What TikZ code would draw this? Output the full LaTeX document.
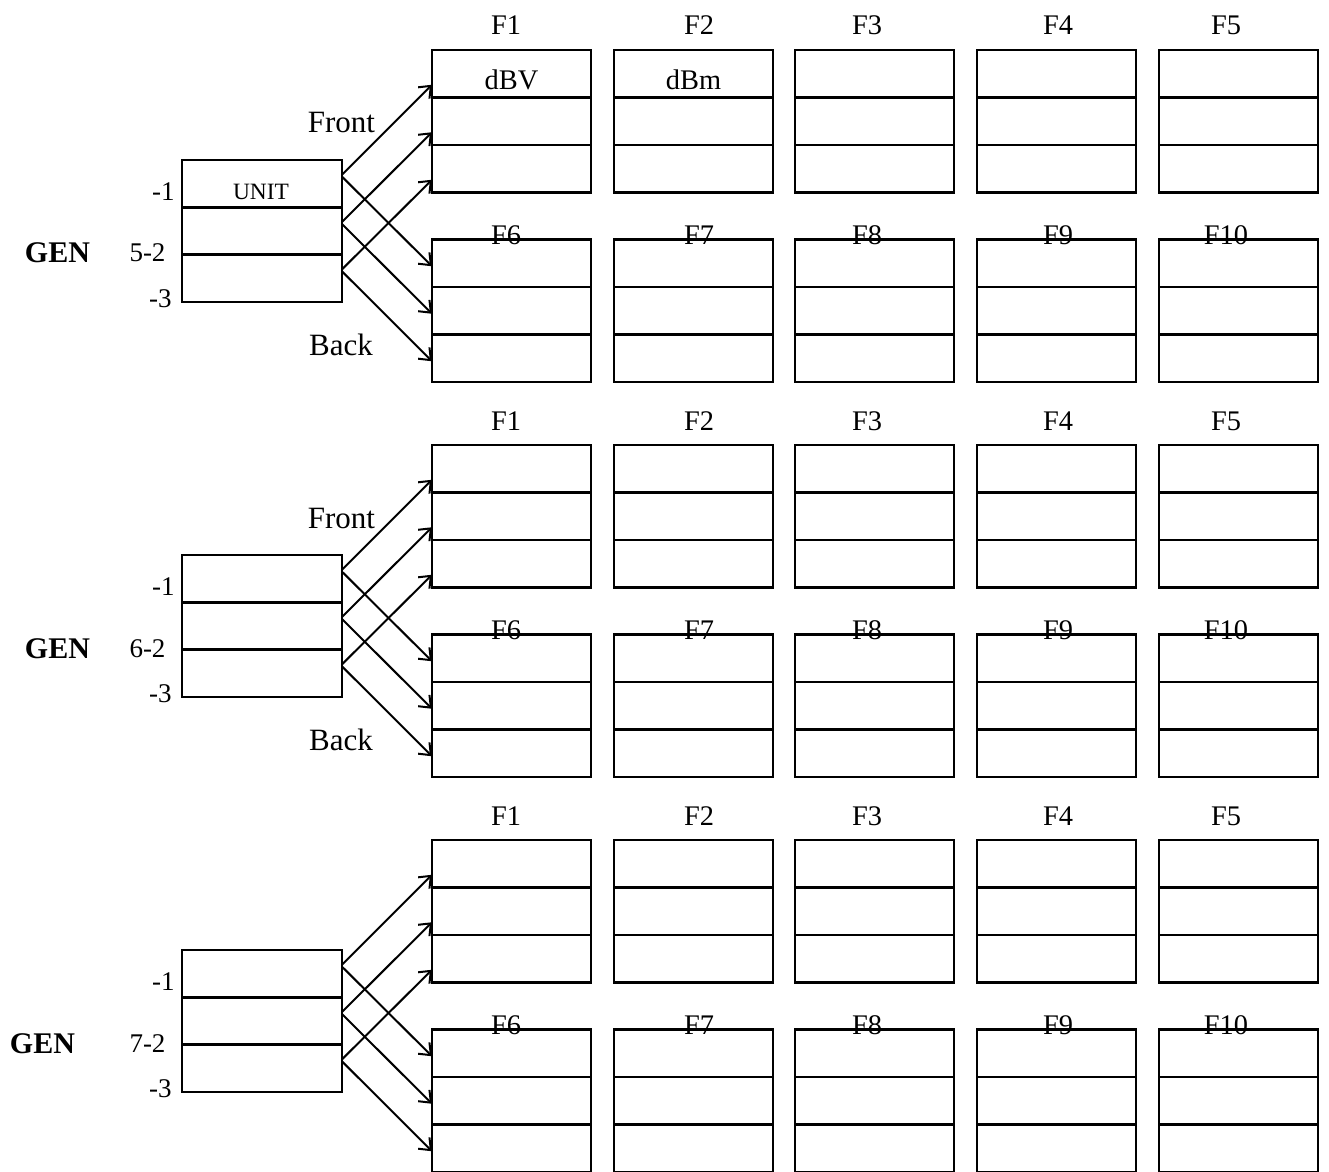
\documentclass[tikz,border=0pt]{standalone}
\usepackage{fontspec}
\setmainfont{Liberation Serif}
\usetikzlibrary{positioning, arrows.meta, calc}

\begin{document}
\begin{tikzpicture}[x=0.5pt, y=-0.5pt,
    cell/.style={draw, line width=1.35pt, minimum width=79.5pt, minimum height=23.75pt, inner sep=0pt, outer sep=0pt},
    ucell/.style={cell, minimum width=80pt, minimum height=23.67pt},
    arr/.style={-{Straight Barb[length=5pt, width=8pt]}, line width=1pt},
    flab/.style={font=\fontsize{14.2}{17}\selectfont, inner sep=0pt, anchor=base},
    side/.style={font=\fontsize{15.5}{18}\selectfont, inner sep=0pt, anchor=base},
    num/.style={font=\fontsize{13.5}{16}\selectfont, inner sep=0pt},
    gen/.style={font=\fontsize{15}{18}\selectfont\bfseries, inner sep=0pt, anchor=base},
    small/.style={font=\fontsize{11.7}{14}\selectfont, inner sep=0pt, anchor=base}]
\useasboundingbox (0,0) rectangle (1329,1172);

\foreach \g/\dy/\gid/\gx in {1/0/5/57.5, 2/395/6/57.5, 3/790/7/42.5} {
    \node[ucell] (u\g1) at (262,183.67+\dy) {};
    \node[ucell, below=0pt of u\g1] (u\g2) {};
    \node[ucell, below=0pt of u\g2] (u\g3) {};
    \foreach \col/\x/\lx in {1/511.5/506, 2/693.5/699, 3/874.5/867, 4/1056.5/1058, 5/1238.5/1226} {
        \node[cell] (t\g\col1) at (\x,73.75+\dy) {};
        \node[cell, below=0pt of t\g\col1] (t\g\col2) {};
        \node[cell, below=0pt of t\g\col2] (t\g\col3) {};
        \node[cell] (b\g\col1) at (\x,263.25+\dy) {};
        \node[cell, below=0pt of b\g\col1] (b\g\col2) {};
        \node[cell, below=0pt of b\g\col2] (b\g\col3) {};
        \pgfmathtruncatemacro\m{\col+5}
        \node[flab] (ft\g\col) at (\lx,35+\dy) {F\col};
        \node[flab] (fb\g\col) at (\lx,244+\dy) {F\m};
    }
    \foreach \row in {1,2,3} {
        \draw[arr] ([yshift=4.5pt]u\g\row.east) -- ([yshift=-5.5pt]t\g1\row.west);
        \draw[arr] ([yshift=3.5pt]u\g\row.east) -- ([yshift=-1.5pt]b\g1\row.west);
    }
    \node[num, anchor=base east] (p\g1) at (175,200+\dy) {-1};
    \node[num, anchor=base] (p\g2) at (147.5,262+\dy) {\gid-2};
    \node[num, anchor=base east] (p\g3) at (172,307+\dy) {-3};
    \node[gen] (gen\g) at (\gx,263+\dy) {GEN};
}

\node[small] (unit) at (261,199) {UNIT};
\node[flab] (dbv) at (511.5,90) {dBV};
\node[flab] (dbm) at (693.5,90) {dBm};
\node[side] (front1) at (341.5,133) {Front};
\node[side] (back1) at (341,355) {Back};
\node[side] (front2) at (341.5,528) {Front};
\node[side] (back2) at (341,750) {Back};
\end{tikzpicture}
\end{document}
